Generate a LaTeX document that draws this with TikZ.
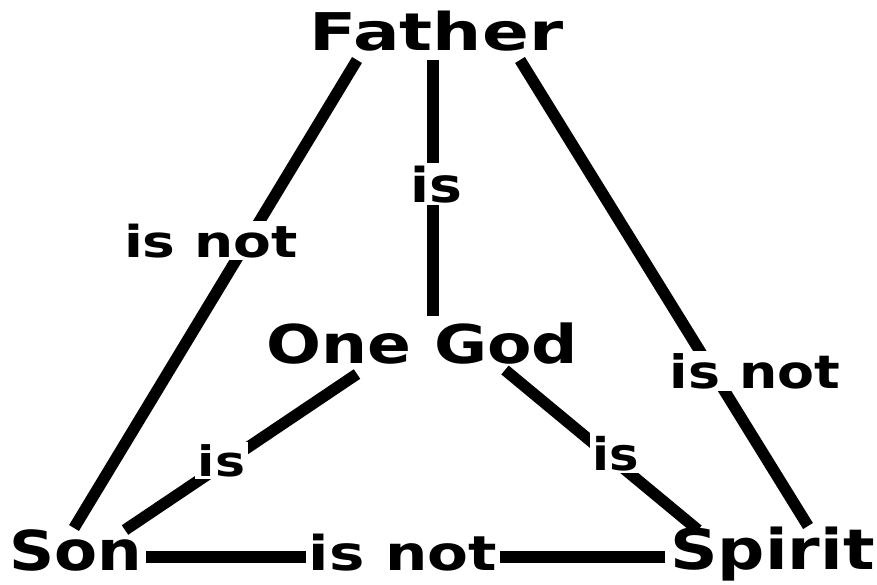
\documentclass[tikz,border=0pt]{standalone}
\usepackage{fontspec}
\usepackage{graphicx}
\setmainfont{DejaVu Sans}
\usetikzlibrary{calc}
\tikzset{
  word/.style={anchor=base, inner sep=0pt, font=\bfseries},
  lbl/.style={anchor=base, inner sep=2.5pt, fill=white, font=\bfseries},
  conn/.style={line width=11.5pt, line cap=butt, black}
}
\newcommand{\fsz}[1]{\fontsize{#1}{#1}\selectfont}
\begin{document}
\begin{tikzpicture}[x=1pt,y=-1pt]
\useasboundingbox[fill=white] (0,0) rectangle (877,584);
% main nodes
\node[word] (father) at (436.5,50) {\fsz{52}\scalebox{1.33}[1]{Father}};
\node[word] (onegod) at (422.5,363) {\fsz{53.5}\scalebox{1.21}[1]{One God}};
\node[word] (son) at (76,570) {\fsz{55}\scalebox{1.14}[1]{Son}};
\node[word] (spirit) at (772.5,569) {\fsz{56}\scalebox{1.18}[1]{Spirit}};
% connectors
\draw[conn] ($(father.base)+(-79.5,10)$) -- ($(son.base)+(-2,-42)$);
\draw[conn] ($(father.base)+(83.5,10)$) -- ($(spirit.base)+(35.5,-43)$);
\draw[conn] ($(father.base)+(-3.5,10)$) -- ($(onegod.base)+(10.5,-47)$);
\draw[conn] ($(onegod.base)+(-65.5,11)$) -- ($(son.base)+(49,-40)$);
\draw[conn] ($(onegod.base)+(82.5,7)$) -- ($(spirit.base)+(-74.5,-39)$);
\draw[conn] ($(son.base)+(70,-13)$) -- ($(spirit.base)+(-107.5,-12)$);
% labels
\node[lbl] (l1) at (211,257) {\fsz{44}\scalebox{1.25}[1]{is not}};
\node[lbl] (l2) at (436.5,202) {\fsz{48}\scalebox{1.15}[1]{is}};
\node[lbl] (l3) at (755,388) {\fsz{46}\scalebox{1.17}[1]{is not}};
\node[lbl] (l4) at (221.5,476) {\fsz{42}\scalebox{1.2}[1]{is}};
\node[lbl] (l5) at (616,470) {\fsz{45}\scalebox{1.1}[1]{is}};
\node[lbl] (l6) at (403,570) {\fsz{48}\scalebox{1.24}[1]{is not}};
\end{tikzpicture}
\end{document}
